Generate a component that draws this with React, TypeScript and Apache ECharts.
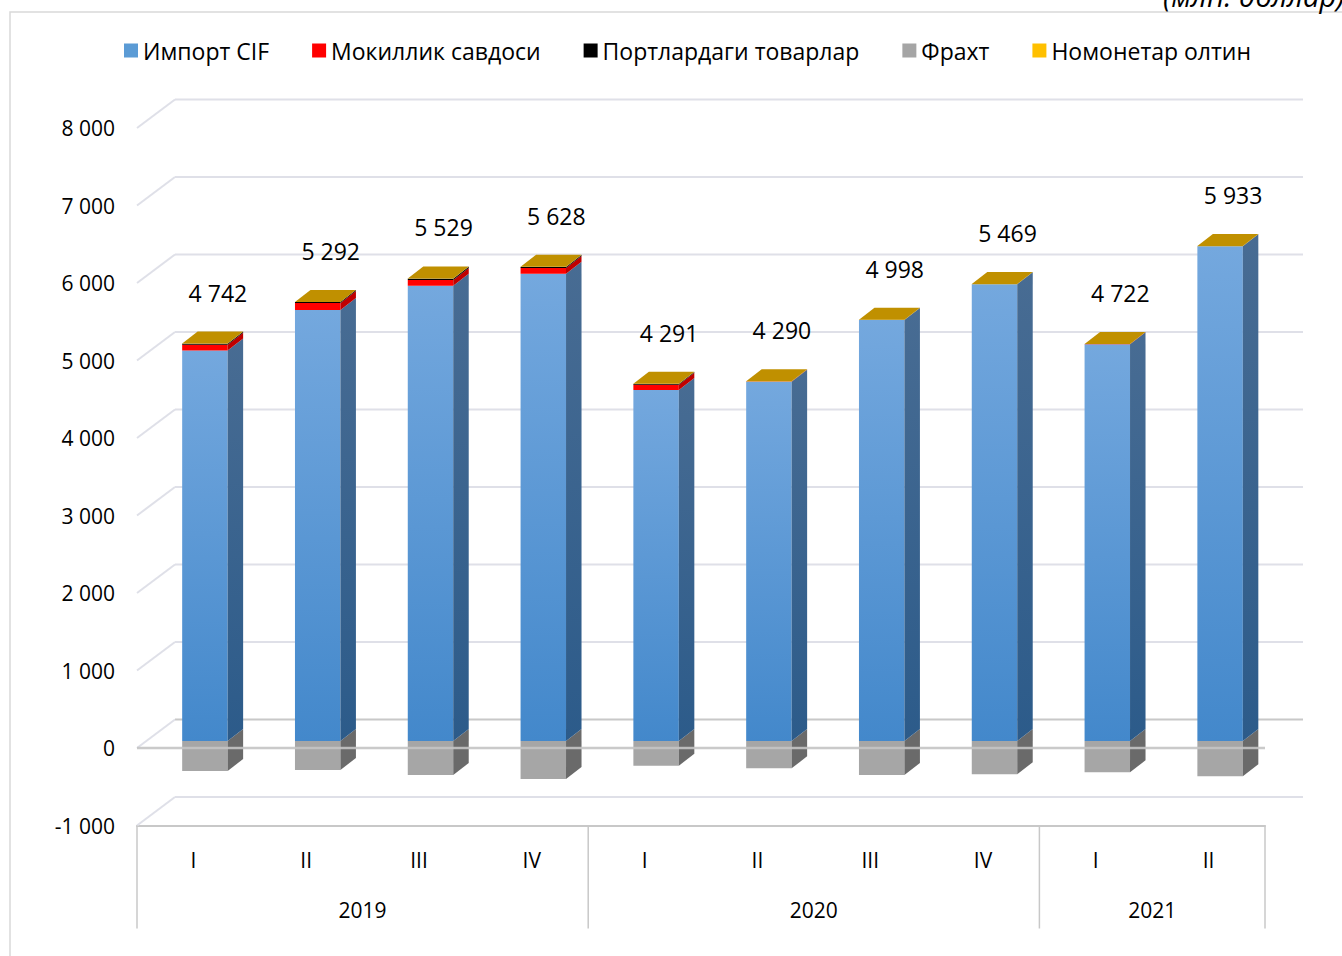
import React, { useEffect, useRef } from "react";
import * as echarts from "echarts";

// ---------- data ----------
const categories = ["I", "II", "III", "IV", "I", "II", "III", "IV", "I", "II"];
const years = ["2019", "2020", "2021"];
const yearSpans = [4, 4, 2];
const seriesNames = ["Импорт CIF", "Мокиллик савдоси", "Портлардаги товарлар", "Фрахт", "Номонетар олтин"];
const importCIF = [5040, 5560, 5874, 6030, 4528, 4637, 5431, 5893, 5120, 6383];
const mokillik = [72, 92, 76, 73, 68, 1, 1, 1, 1, 1];
const portlar = [14, 12, 16, 13, 12, 1, 1, 1, 1, 1];
const frakht = [-387, -374, -439, -490, -319, -353, -439, -430, -404, -456];
const gold = [3, 2, 2, 2, 2, 2, 2, 2, 2, 2];
const totals = [4742, 5292, 5529, 5628, 4291, 4290, 4998, 5469, 4722, 5933];
const yTicks = [-1000, 0, 1000, 2000, 3000, 4000, 5000, 6000, 7000, 8000];

// ---------- geometry / style ----------
const FONT = "Open Sans";
const OX = 11.5, OY = -7; // bar front face offset from front plane
const DX = 15.5, DY = -12; // bar depth
const BX = 38, BY = -28.5; // wall depth
const BAR_RATIO = 0.403;

const fmt = (v: number) => {
  const s = String(Math.abs(v)).replace(/\B(?=(\d{3})+(?!\d))/g, " ");
  return (v < 0 ? "-" : "") + s;
};

const grad = (a: string, b: string) =>
  new echarts.graphic.LinearGradient(0, 0, 0, 1, [
    { offset: 0, color: a },
    { offset: 1, color: b },
  ]);

// stacked bases
const posStack = [importCIF, mokillik, portlar, gold];
const basesFor = (idx: number) =>
  categories.map((_, i) => {
    let s = 0;
    for (let k = 0; k < idx; k++) s += posStack[k][i];
    return s;
  });
const posTop = categories.map((_, i) => posStack.reduce((s, arr) => s + arr[i], 0));

function barSeries(name: string, values: number[], bases: number[], legendColor: string, front: any, side: any, top: any) {
  return {
    type: "custom",
    name,
    z: 3,
    silent: true,
    itemStyle: { color: legendColor },
    data: values.map((v, i) => [i, bases[i], bases[i] + v]),
    renderItem: (params: any, api: any) => {
      const i = api.value(0);
      const a = api.value(1);
      const b = api.value(2);
      const pa = api.coord([i, a]);
      const pb = api.coord([i, b]);
      const w = api.size([1, 0])[0] * BAR_RATIO;
      const cx = pa[0] + OX;
      const x = cx - w / 2;
      const y1 = Math.min(pa[1], pb[1]) + OY;
      const y2 = Math.max(pa[1], pb[1]) + OY;
      const children: any[] = [
        { type: "rect", shape: { x, y: y1, width: w, height: y2 - y1 }, style: { fill: front } },
        {
          type: "polygon",
          shape: { points: [[x + w, y1], [x + w + DX, y1 + DY], [x + w + DX, y2 + DY], [x + w, y2]] },
          style: { fill: side },
        },
      ];
      if (top) {
        children.push({
          type: "polygon",
          shape: { points: [[x, y1], [x + w, y1], [x + w + DX, y1 + DY], [x + DX, y1 + DY]] },
          style: { fill: top },
        });
      }
      return { type: "group", children };
    },
  };
}

export default function App() {
  const ref = useRef<HTMLDivElement>(null);
  useEffect(() => {
    if (!ref.current) return;
    const chart = echarts.init(ref.current, null, { renderer: "svg" });

    const boundaries: number[] = [0];
    yearSpans.forEach((s) => boundaries.push(boundaries[boundaries.length - 1] + s));
    const yearCenters: Record<number, string> = {};
    yearSpans.forEach((s, k) => {
      yearCenters[boundaries[k] + s / 2] = years[k];
    });

    const frameSeries = {
      type: "custom",
      name: "frame",
      z: 1,
      silent: true,
      data: yTicks.map((v) => [0, v]),
      renderItem: (params: any, api: any) => {
        const cs = params.coordSys;
        const v = api.value(1);
        const y = api.coord([0, v])[1];
        const xl = cs.x, xr = cs.x + cs.width;
        const isZero = v === 0;
        const col = isZero ? "#c8c8c8" : "#dfe0e8";
        const children: any[] = [
          { type: "line", shape: { x1: xl + BX, y1: y + BY, x2: xr + BX, y2: y + BY }, style: { stroke: col, lineWidth: 2 } },
          { type: "line", shape: { x1: xl, y1: y, x2: xl + BX, y2: y + BY }, style: { stroke: "#dfe0e8", lineWidth: 2 } },
        ];
        if (v === yTicks[0]) {
          const N = categories.length;
          boundaries.forEach((k) => {
            const xx = cs.x + (cs.width * k) / N;
            children.push({
              type: "line",
              shape: { x1: xx, y1: y, x2: xx, y2: y + 103 },
              style: { stroke: "#c8c8c8", lineWidth: 1.5 },
            });
          });
        }
        return { type: "group", children };
      },
    };

    const frontZero = {
      type: "custom",
      name: "frontZero",
      z: 5,
      silent: true,
      data: [[0, 0]],
      renderItem: (params: any, api: any) => {
        const cs = params.coordSys;
        const y = api.coord([0, 0])[1];
        return {
          type: "line",
          shape: { x1: cs.x, y1: y, x2: cs.x + cs.width, y2: y },
          style: { stroke: "#c4c4c4", lineWidth: 2.5, opacity: 0.9 },
        };
      },
    };

    const labelSeries = {
      type: "custom",
      name: "labels",
      z: 6,
      silent: true,
      data: totals.map((t, i) => [i, posTop[i], t]),
      renderItem: (params: any, api: any) => {
        const i = api.value(0);
        const p = api.coord([i, api.value(1)]);
        return {
          type: "text",
          x: p[0] + OX + 13,
          y: p[1] + OY - 51,
          style: {
            text: fmt(api.value(2)),
            fill: "#000",
            fontSize: 23,
            fontFamily: FONT,
            align: "center",
            verticalAlign: "middle",
          },
        };
      },
    };

    const option: any = {
      animation: false,
      textStyle: { fontFamily: FONT },
      graphic: [
        {
          type: "rect",
          shape: { x: 10, y: 12, width: 1345, height: 950 },
          style: { fill: "none", stroke: "#d9d9d9", lineWidth: 1.5 },
          silent: true,
        },
        {
          type: "text",
          x: 1163,
          y: -5,
          style: {
            text: "(млн. доллар)",
            fontSize: 29,
            fontStyle: "italic",
            fontFamily: FONT,
            fill: "#000",
            verticalAlign: "middle",
          },
        },
      ],
      legend: {
        data: seriesNames,
        left: 119,
        top: 34,
        icon: "rect",
        itemWidth: 14,
        itemHeight: 14,
        itemGap: 43,
        textStyle: { fontSize: 23, fontFamily: FONT, color: "#000" },
        selectedMode: false,
      },
      grid: { left: 137, top: 128, width: 1128, height: 697.5, containLabel: false },
      xAxis: [
        {
          type: "category",
          data: categories,
          position: "bottom",
          axisLine: { show: true, onZero: false, lineStyle: { color: "#c8c8c8", width: 2 } },
          axisTick: { show: false },
          axisLabel: { fontSize: 21, fontFamily: FONT, color: "#000", margin: 24, interval: 0 },
          splitLine: { show: false },
        },
        {
          type: "value",
          min: 0,
          max: categories.length,
          interval: 1,
          position: "bottom",
          axisLine: { show: false, onZero: false },
          axisTick: { show: false },
          splitLine: { show: false },
          axisLabel: {
            fontSize: 21,
            fontFamily: FONT,
            color: "#000",
            margin: 74,
            showMinLabel: true,
            showMaxLabel: true,
            formatter: (v: number) => yearCenters[v] || "",
          },
        },
      ],
      yAxis: {
        type: "value",
        min: -1000,
        max: 8000,
        interval: 1000,
        axisLine: { show: false },
        axisTick: { show: false },
        splitLine: { show: false },
        axisLabel: { fontSize: 21, fontFamily: FONT, color: "#000", margin: 22, formatter: (v: number) => fmt(v) },
      },
      series: [
        frameSeries,
        barSeries(seriesNames[3], frakht, categories.map(() => 0), "#a5a5a5", "#a6a6a6", "#6a6a6a", null),
        barSeries(seriesNames[0], importCIF, basesFor(0), "#5b9bd5", grad("#74a8de", "#4388cb"), grad("#486c93", "#2c5b8a"), null),
        barSeries(seriesNames[1], mokillik, basesFor(1), "#ff0000", "#ff0000", "#c00000", null),
        barSeries(seriesNames[2], portlar, basesFor(2), "#000000", "#000000", "#000000", null),
        barSeries(seriesNames[4], gold, basesFor(3), "#ffc000", "#c49500", "#8f6d00", "#c09000"),
        frontZero,
        labelSeries,
      ],
    };
    chart.setOption(option);
    return () => chart.dispose();
  }, []);
  return <div ref={ref} style={{ position: "absolute", left: 0, top: 0, width: 1342, height: 956 }} />;
}
